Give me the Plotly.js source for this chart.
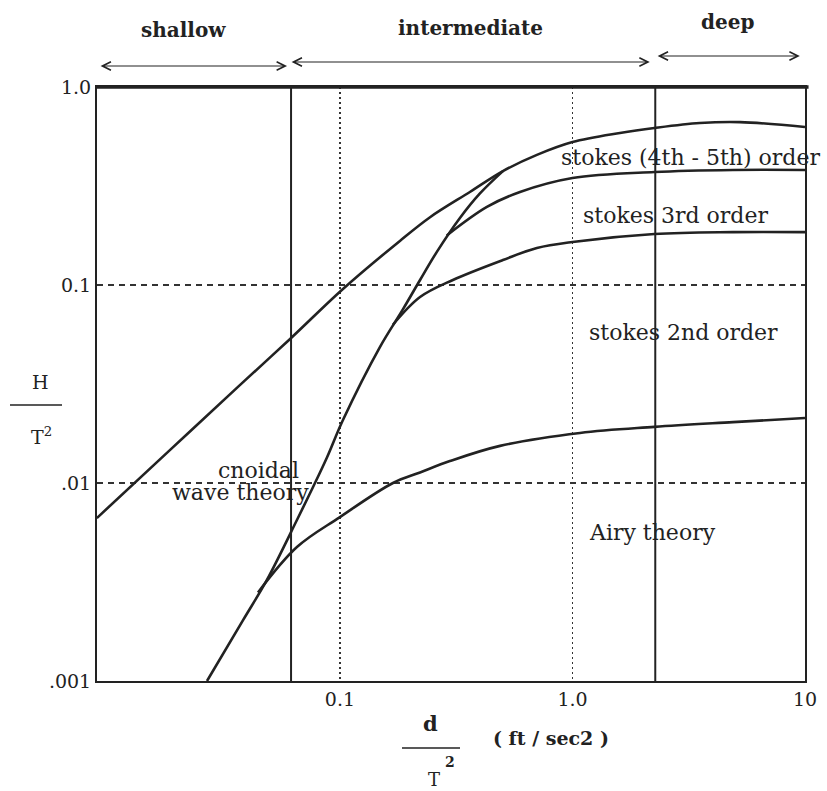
<!DOCTYPE html>
<html><head><meta charset="utf-8">
<script src="https://cdn.plot.ly/plotly-3.0.1.min.js"></script>
<style>html,body{margin:0;padding:0;background:#fff}#chart{width:827px;height:791px}</style>
</head><body><div id="chart"></div>
<script>
// Breaking limit (upper envelope)
const breakX = [0.0090, 0.0186, 0.0372, 0.061, 0.103, 0.181, 0.244, 0.362, 0.502, 0.703, 1.0, 1.6, 2.25, 3.53, 5.25, 10.0];
const breakY = [0.00665, 0.0147, 0.0313, 0.0534, 0.0955, 0.167, 0.220, 0.295, 0.376, 0.454, 0.527, 0.586, 0.621, 0.658, 0.665, 0.628];
// Cnoidal / Stokes boundary (steep line, merges into the upper envelope)
const ursellX = [0.0268, 0.0383, 0.0485, 0.0653, 0.0766, 0.088, 0.103, 0.1485, 0.187, 0.221, 0.261, 0.328, 0.40, 0.502];
const ursellY = [0.001, 0.00203, 0.00324, 0.0065, 0.00955, 0.0135, 0.0208, 0.0486, 0.0757, 0.106, 0.147, 0.218, 0.290, 0.376];
// Stokes 3rd / 4th-5th boundary
const s4X = [0.288, 0.4285, 0.5945, 1.0, 2.25, 4.9, 10.0];
const s4Y = [0.178, 0.248, 0.295, 0.347, 0.372, 0.381, 0.381];
// Stokes 2nd / 3rd boundary
const s3X = [0.169, 0.221, 0.306, 0.502, 0.703, 1.0, 2.25, 4.9, 10.0];
const s3Y = [0.063, 0.0869, 0.106, 0.1337, 0.1538, 0.165, 0.181, 0.185, 0.185];
// Airy / Stokes 2nd boundary
const s2X = [0.0444, 0.0653, 0.1, 0.169, 0.221, 0.297, 0.488, 1.077, 2.25, 4.9, 10.0];
const s2Y = [0.0028, 0.00475, 0.00673, 0.01, 0.0113, 0.0129, 0.0154, 0.0179, 0.0192, 0.0203, 0.0213];
// depth-regime boundaries (d/T^2)
const regimeBounds = [0.0616, 2.27];
const regimeYSpan = [0.001, 1.0];
// regime arrows [from, to]
const regimeNames = ['shallow', 'intermediate', 'deep'];
const regimeFrom = [0.0092, 0.061, 2.29];
const regimeTo = [0.0592, 2.15, 9.5];
// tick labels
const xTickVals = [0.1, 1, 10];
const xTickText = ['0.1', '1.0', '10'];
const yTickVals = [0.001, 0.01, 0.1, 1];
const yTickText = ['.001', '.01', '0.1', '1.0'];
// region labels
const regionText = ['cnoidal', 'wave theory', 'stokes (4th - 5th) order', 'stokes 3rd order', 'stokes 2nd order', 'Airy theory'];

const INK = '#222';
const SERIF = 'DejaVu Serif, serif';
const curve = (x, y) => ({x, y, type: 'scatter', mode: 'lines', hoverinfo: 'skip',
  line: {color: INK, width: 2.6, shape: 'spline', smoothing: 1}, showlegend: false});

const traces = [
  curve(breakX, breakY),
  curve(ursellX, ursellY),
  curve(s4X, s4Y),
  curve(s3X, s3Y),
  curve(s2X, s2Y)
];
regimeBounds.forEach(b => traces.push({x: [b, b], y: regimeYSpan, type: 'scatter', mode: 'lines',
  hoverinfo: 'skip', showlegend: false, line: {color: INK, width: 2}}));

const px2paperX = p => (p - 97) / 708;
const px2paperY = p => (681 - p) / 594;
const label = (text, px, py, size, extra) => Object.assign({text, xref: 'paper', yref: 'paper',
  x: px2paperX(px), y: px2paperY(py), xanchor: 'center', yanchor: 'middle', showarrow: false,
  font: {family: SERIF, size, color: INK}}, extra || {});

const ann = [];
// regime names and arrows
const nameX = [183, 470, 727], nameY = [30, 28, 22], arrowY = [66, 62, 56];
regimeNames.forEach((n, i) => {
  ann.push(label(n, nameX[i], nameY[i], 20, {font: {family: SERIF, size: 20, color: INK, weight: 'bold'}}));
  ann.push({text: '', xref: 'x', yref: 'paper', x: Math.log10(regimeTo[i]), y: px2paperY(arrowY[i]),
    axref: 'x', ayref: 'pixel', ax: Math.log10(regimeFrom[i]), ay: 0,
    showarrow: true, arrowhead: 5, startarrowhead: 5, arrowside: 'end+start',
    arrowsize: 1.4, startarrowsize: 1.4, arrowwidth: 1.2, arrowcolor: INK, standoff: 0, startstandoff: 0});
});
// region labels
const regPx = [[258, 470], [240, 492], [690, 158], [675, 215], [683, 332], [652, 532]];
regionText.forEach((t, i) => ann.push(label(t, regPx[i][0], regPx[i][1], 22)));
// axis titles as fractions
ann.push(label('H', 40, 382, 19));
ann.push(label('T<sup>2</sup>', 42, 436, 19));
ann.push(label('<b>d</b>', 430, 723, 21));
ann.push(label('<b>2</b>', 450, 762, 14));
ann.push(label('T', 434, 779, 18));
ann.push(label('<b>( ft / sec2 )</b>', 551, 738, 19));

const shapes = [
  {type: 'line', xref: 'paper', yref: 'paper', x0: px2paperX(10), x1: px2paperX(62), y0: px2paperY(405), y1: px2paperY(405),
    line: {color: INK, width: 1.5}},
  {type: 'line', xref: 'paper', yref: 'paper', x0: px2paperX(402), x1: px2paperX(460), y0: px2paperY(748), y1: px2paperY(748),
    line: {color: INK, width: 1.5}},
  {type: 'line', xref: 'paper', yref: 'paper', x0: 0, x1: 1.005, y0: 1, y1: 1, line: {color: INK, width: 3.5}}
];

const layout = {
  width: 827, height: 791,
  margin: {l: 97, r: 22, t: 87, b: 110},
  paper_bgcolor: '#fff', plot_bgcolor: '#fff',
  showlegend: false,
  xaxis: {type: 'log', range: [-2.045, 1.0], tickvals: xTickVals, ticktext: xTickText, ticks: '',
    showgrid: true, griddash: '2px,3px', gridcolor: '#333', gridwidth: 1.3,
    showline: true, mirror: true, linecolor: INK, linewidth: 2, zeroline: false,
    tickfont: {family: SERIF, size: 19, color: INK}, fixedrange: true},
  yaxis: {type: 'log', range: [-3, 0], tickvals: yTickVals, ticktext: yTickText, ticks: '',
    showgrid: true, griddash: '6px,5px', gridcolor: '#333', gridwidth: 1.3,
    showline: true, mirror: true, linecolor: INK, linewidth: 2, zeroline: false,
    tickfont: {family: SERIF, size: 19, color: INK}, fixedrange: true},
  annotations: ann,
  shapes: shapes
};

Plotly.newPlot('chart', traces, layout, {displayModeBar: false, staticPlot: true});
</script></body></html>
